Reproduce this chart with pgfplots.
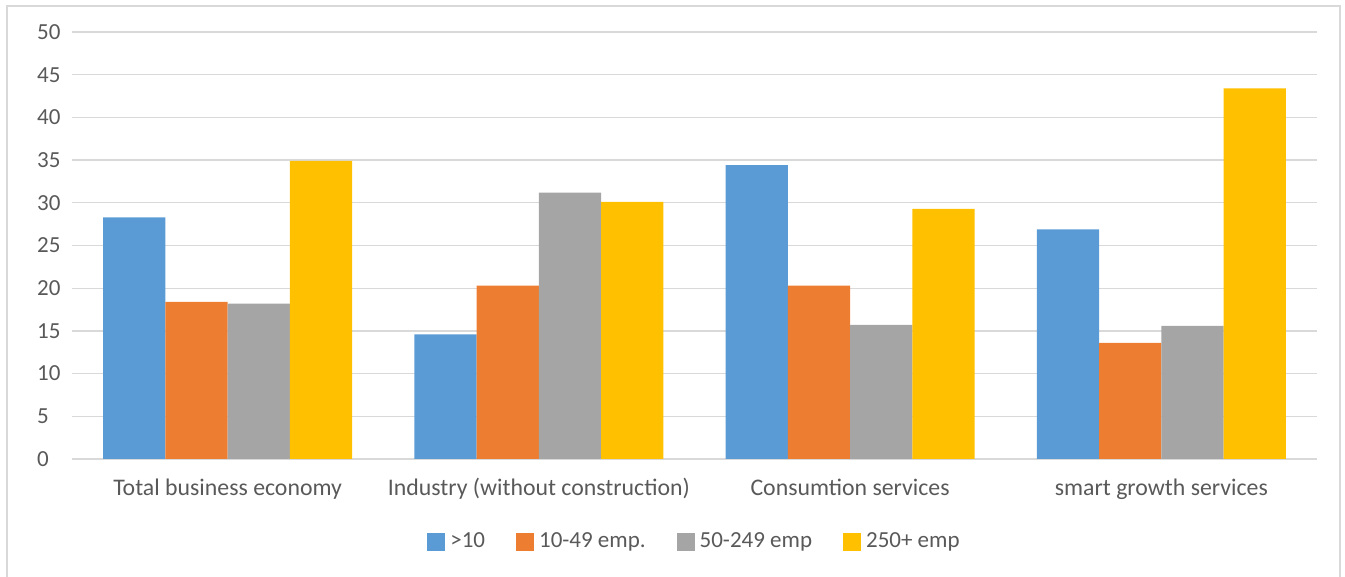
\documentclass[border=0pt]{standalone}
\usepackage{pgfplots}
\pgfplotsset{compat=1.18}
\usepackage{fontspec}
\setmainfont{Carlito}
\definecolor{cBlue}{HTML}{5B9BD5}
\definecolor{cOrange}{HTML}{ED7D31}
\definecolor{cGrey}{HTML}{A5A5A5}
\definecolor{cYellow}{HTML}{FFC000}
\definecolor{gridC}{HTML}{D9D9D9}
\definecolor{labelC}{HTML}{595959}
\definecolor{frameC}{HTML}{D9D9D9}
\begin{document}
\fontsize{23bp}{27bp}\selectfont
\begin{tikzpicture}
\path[use as bounding box] (0,0) rectangle (1345bp,577bp);
\draw[frameC, line width=1.2bp] (7bp,-5bp) -- (7bp,571bp) -- (1340bp,571bp) -- (1340bp,-5bp);
\begin{axis}[
  at={(72bp,118bp)}, anchor=south west,
  scale only axis, width=1245bp, height=427bp,
  ymin=0, ymax=50, ytick={0,5,...,50},
  xmin=-0.5, xmax=3.5, xtick={0,1,2,3},
  xticklabels={Total business economy, Industry (without construction), Consumtion services, smart growth services},
  ybar=0pt, bar width=0.2,
  axis line style={draw=none},
  major tick length=0pt,
  tick style={draw=none},
  ymajorgrids, grid style={gridC, line width=1.3bp},
  /pgf/number format/assume math mode=true,
  tick label style={font=\fontsize{23bp}{27bp}\selectfont, text=labelC},
  yticklabel style={anchor=west, xshift=-35bp, inner sep=0pt},
  xticklabel style={anchor=base, yshift=-36bp, inner sep=0pt, font=\fontsize{23.8bp}{27bp}\selectfont},
  legend style={at={(0.5,-0.1945)}, anchor=center, draw=none, fill=none,
    font=\fontsize{23bp}{27bp}\selectfont, text=labelC,
    legend columns=4,
    /tikz/every odd column/.append style={column sep=3bp},
    /tikz/every even column/.append style={column sep=29bp}},
  legend image code/.code={\fill[#1] (0bp,-9bp) rectangle (18bp,9bp);},
]
\addplot[fill=cBlue, draw=none] coordinates {(0,28.3) (1,14.6) (2,34.4) (3,26.9)};
\addplot[fill=cOrange, draw=none] coordinates {(0,18.4) (1,20.3) (2,20.3) (3,13.6)};
\addplot[fill=cGrey, draw=none] coordinates {(0,18.2) (1,31.2) (2,15.7) (3,15.6)};
\addplot[fill=cYellow, draw=none] coordinates {(0,34.9) (1,30.1) (2,29.3) (3,43.4)};
\legend{>10, 10-49 emp., 50-249 emp, 250+ emp}
\end{axis}
\end{tikzpicture}
\end{document}
